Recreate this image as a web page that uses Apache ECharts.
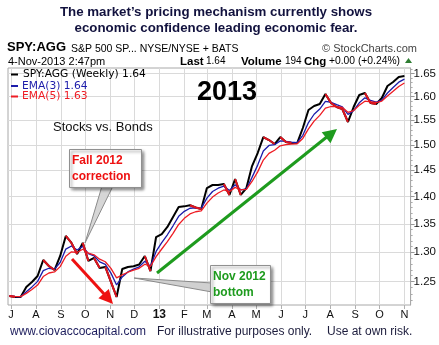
<!DOCTYPE html>
<html>
<head>
<meta charset="utf-8">
<script src="https://cdn.jsdelivr.net/npm/echarts@6.0.0/dist/echarts.min.js"></script>
<style>html,body{margin:0;padding:0;background:#fff;}#c{width:439px;height:345px;}</style>
</head>
<body>
<div id="c"></div>
<script>
// ---- data (weekly closes, Fridays from 29-Jun-2012) ----
const firstWeek = Date.UTC(2012, 5, 29);
const priceValues = [1.2264,1.2248,1.2248,1.2412,1.2496,1.2596,1.2867,1.2765,1.2696,1.2936,
1.3286,1.3163,1.2971,1.3163,1.2850,1.2902,1.2730,1.2748,1.2496,1.2248,
1.2714,1.2748,1.2760,1.2790,1.2936,1.2679,1.3267,1.3320,1.3446,1.3626,
1.3808,1.3820,1.3840,1.3800,1.3771,1.4162,1.4219,1.4219,1.4238,1.4031,
1.4333,1.4031,1.4162,1.4583,1.4838,1.5157,1.5097,1.5017,1.5157,1.5057,
1.5036,1.5036,1.5341,1.5713,1.5797,1.5840,1.6052,1.5860,1.5776,1.5733,
1.5464,1.5776,1.6031,1.6074,1.5860,1.5840,1.5967,1.6224,1.6311,1.6420,1.6440];
const ema3Values = [1.2264,1.2256,1.2252,1.2332,1.2414,1.2505,1.2686,1.2726,1.2711,1.2824,
1.3055,1.3109,1.3040,1.3102,1.2976,1.2939,1.2835,1.2792,1.2644,1.2446,
1.2580,1.2664,1.2712,1.2751,1.2844,1.2761,1.3014,1.3167,1.3307,1.3467,
1.3638,1.3729,1.3785,1.3792,1.3782,1.3972,1.4096,1.4158,1.4198,1.4115,
1.4224,1.4128,1.4145,1.4364,1.4601,1.4879,1.4988,1.5003,1.5080,1.5069,
1.5053,1.5045,1.5193,1.5453,1.5625,1.5733,1.5893,1.5877,1.5827,1.5780,
1.5622,1.5699,1.5865,1.5970,1.5915,1.5878,1.5923,1.6074,1.6193,1.6307,1.6374];
const ema5Values = [1.2264,1.2259,1.2255,1.2307,1.2370,1.2445,1.2586,1.2646,1.2663,1.2754,
1.2931,1.3008,1.2996,1.3052,1.2985,1.2957,1.2881,1.2837,1.2723,1.2565,
1.2615,1.2659,1.2693,1.2725,1.2795,1.2756,1.2926,1.3057,1.3187,1.3333,
1.3491,1.3601,1.3681,1.3721,1.3738,1.3879,1.3992,1.4068,1.4125,1.4094,
1.4174,1.4126,1.4138,1.4286,1.4470,1.4699,1.4832,1.4894,1.4982,1.5007,
1.5017,1.5023,1.5129,1.5324,1.5482,1.5601,1.5751,1.5787,1.5783,1.5766,
1.5665,1.5702,1.5812,1.5899,1.5886,1.5871,1.5903,1.6010,1.6110,1.6213,1.6289];
const monthStarts = ['2012-07-01','2012-08-01','2012-09-01','2012-10-01','2012-11-01','2012-12-01',
'2013-01-01','2013-02-01','2013-03-01','2013-04-01','2013-05-01','2013-06-01','2013-07-01',
'2013-08-01','2013-09-01','2013-10-01','2013-11-01'];
const monthLabels = ['J','A','S','O','N','D','13','F','M','A','M','J','J','A','S','O','N'];
const yTickLabels = [1.25,1.30,1.35,1.40,1.45,1.50,1.55,1.60,1.65];
const yMinorTicks = [1.22,1.23,1.24,1.26,1.27,1.28,1.29,1.31,1.32,1.33,1.34,1.36,1.37,1.38,1.39,
1.41,1.42,1.43,1.44,1.46,1.47,1.48,1.49,1.51,1.52,1.53,1.54,1.56,1.57,1.58,1.59,1.61,1.62,1.63,1.64,1.66];

// ---- build ----
const DAY = 86400000;
const dates = priceValues.map((_, i) => firstWeek + i * 7 * DAY);
const ts = s => { const p = s.split('-').map(Number); return Date.UTC(p[0], p[1]-1, p[2]); };
const monthTs = monthStarts.map(ts);
const labelFor = v => { let best = 0, bd = Infinity; monthTs.forEach((t, i) => { const d = Math.abs(t - v); if (d < bd) { bd = d; best = i; } }); return monthLabels[best]; };
const L = Math.log;
const lineData = arr => arr.map((v, i) => [dates[i], L(v)]);
const downData = [];
for (let i = 0; i < priceValues.length - 1; i++) {
  if (priceValues[i+1] < priceValues[i]) {
    downData.push([dates[i], L(priceValues[i])], [dates[i+1], L(priceValues[i+1])], [dates[i+1], null]);
  }
}
const yMin = L(1.2118), yMax = L(1.6618);
const xMin = Date.UTC(2012, 5, 27, 7), xMax = Date.UTC(2013, 10, 8, 17);
const SANS = '"Liberation Sans", Arial, sans-serif';

const chart = echarts.init(document.getElementById('c'), null, {renderer: 'canvas'});
const txt = (text, x, y, font, fill, extra) => ({
  type: 'text', z: 100, style: Object.assign({text, x, y, font, fill, textVerticalAlign: 'middle'}, extra || {})
});
chart.setOption({
  animation: false,
  grid: {left: 8, top: 68, right: 28, bottom: 40, show: true, borderColor: '#a8a8a8', borderWidth: 1},
  xAxis: [{
    type: 'value', min: xMin, max: xMax, scale: true,
    axisLine: {show: false},
    axisTick: {show: true, customValues: monthTs, length: 4, lineStyle: {color: '#b0b0b0'}},
    axisLabel: {customValues: monthTs, fontFamily: SANS, fontSize: 11, color: '#111', margin: 4,
      formatter: v => { const l = labelFor(v); return l === '13' ? '{b|13}' : l; },
      rich: {b: {fontWeight: 'bold', fontSize: 12, fontFamily: SANS, color: '#111'}}},
    splitLine: {show: true, lineStyle: {color: '#dadada', width: 1}}
  }],
  yAxis: [{
    type: 'value', position: 'right', min: yMin, max: yMax, scale: true,
    axisLine: {show: true, lineStyle: {color: '#a8a8a8'}},
    axisTick: {show: true, customValues: yTickLabels.map(L), length: 4, lineStyle: {color: '#999'}},
    axisLabel: {customValues: yTickLabels.map(L), formatter: v => Math.exp(v).toFixed(2),
      fontFamily: SANS, fontSize: 11.5, color: '#111', margin: 3},
    splitLine: {show: true, lineStyle: {color: '#dadada', width: 1}}
  }, {
    type: 'value', position: 'right', min: yMin, max: yMax, offset: 0, scale: true,
    axisLine: {show: false},
    axisTick: {show: true, customValues: yMinorTicks.map(L), length: 2, lineStyle: {color: '#aaa'}},
    axisLabel: {show: false}, splitLine: {show: false}
  }],
  series: [
    {name: 'SPY:AGG', type: 'line', data: lineData(priceValues), showSymbol: false, z: 3,
      lineStyle: {color: '#000', width: 2}},
    {name: 'EMA(3)', type: 'line', data: lineData(ema3Values), showSymbol: false, z: 4,
      lineStyle: {color: '#1c1caa', width: 1.3}},
    {name: 'EMA(5)', type: 'line', data: lineData(ema5Values), showSymbol: false, z: 5,
      lineStyle: {color: '#ee1c24', width: 1.3}},
    {name: 'down', type: 'line', data: downData, showSymbol: false, connectNulls: false, z: 6,
      lineStyle: {color: '#e0141e', width: 2}}
  ],
  graphic: [
    txt('The market\u2019s pricing mechanism currently shows', 216, 12.5, 'bold 13.3px ' + SANS, '#12123e', {textAlign: 'center'}),
    txt('economic confidence leading economic fear.', 216, 28.5, 'bold 13.3px ' + SANS, '#12123e', {textAlign: 'center'}),
    txt('SPY:AGG', 7, 47.5, 'bold 13px ' + SANS, '#000'),
    txt('S&P 500 SP... NYSE/NYSE + BATS', 71, 49, '10.5px ' + SANS, '#000'),
    txt('\u00a9 StockCharts.com', 322, 49, '11px ' + SANS, '#444'),
    txt('4-Nov-2013 2:47pm', 8, 61.5, '11px ' + SANS, '#000'),
    txt('Last', 180, 61.5, 'bold 11.5px ' + SANS, '#000'),
    txt('1.64', 206, 61.5, '10px ' + SANS, '#000'),
    txt('Volume', 241, 61.5, 'bold 11.5px ' + SANS, '#000'),
    txt('194', 285, 61.5, '10px ' + SANS, '#000'),
    txt('Chg', 304, 61.5, 'bold 11.5px ' + SANS, '#000'),
    txt('+0.00 (+0.24%)', 329, 61.5, '10.3px ' + SANS, '#000'),
    {type: 'polygon', z: 100, shape: {points: [[405, 63], [412, 63], [408.5, 58]]}, style: {fill: '#2e7d32'}},
    {type: 'line', z: 100, shape: {x1: 11, y1: 74.5, x2: 18, y2: 74.5}, style: {stroke: '#000', lineWidth: 2}},
    txt('SPY:AGG (Weekly) 1.64', 23, 74.5, '10.7px "DejaVu Sans", sans-serif', '#000'),
    {type: 'line', z: 100, shape: {x1: 11, y1: 86, x2: 18, y2: 86}, style: {stroke: '#1c1caa', lineWidth: 2}},
    txt('EMA(3) 1.64', 22, 86, '10.7px "DejaVu Sans", sans-serif', '#1c1caa'),
    {type: 'line', z: 100, shape: {x1: 11, y1: 96.5, x2: 18, y2: 96.5}, style: {stroke: '#ee1c24', lineWidth: 2}},
    txt('EMA(5) 1.63', 22, 96.5, '10.7px "DejaVu Sans", sans-serif', '#ee1c24'),
    txt('2013', 197, 93, 'bold 27px ' + SANS, '#000'),
    txt('Stocks vs. Bonds', 53, 127.5, '13px ' + SANS, '#111'),
    {type: 'polygon', z: 100, shape: {points: [[102, 186], [113, 186], [85, 243]]}, style: {fill: '#d6d6d6', stroke: '#8a8a8a', lineWidth: 1}},
    {type: 'rect', z: 101, shape: {x: 69.5, y: 149.5, width: 72, height: 38},
      style: {fill: '#fff', stroke: '#909090', lineWidth: 1, shadowBlur: 3, shadowOffsetX: 2, shadowOffsetY: 2, shadowColor: 'rgba(0,0,0,0.45)'}},
    Object.assign(txt('Fall 2012', 72, 161, 'bold 12px ' + SANS, '#ee1111'), {z: 102}),
    Object.assign(txt('correction', 72, 177, 'bold 12px ' + SANS, '#ee1111'), {z: 102}),
    {type: 'polygon', z: 100, shape: {points: [[134, 278], [212, 283], [212, 292]]}, style: {fill: '#d0d0d0', stroke: '#8a8a8a', lineWidth: 1}},
    {type: 'rect', z: 101, shape: {x: 210.5, y: 265.5, width: 60, height: 38},
      style: {fill: '#fff', stroke: '#909090', lineWidth: 1, shadowBlur: 3, shadowOffsetX: 2, shadowOffsetY: 2, shadowColor: 'rgba(0,0,0,0.45)'}},
    Object.assign(txt('Nov 2012', 213, 277, 'bold 12px ' + SANS, '#1e9b1e'), {z: 102}),
    Object.assign(txt('bottom', 213, 293, 'bold 12px ' + SANS, '#1e9b1e'), {z: 102}),
    {type: 'line', z: 99, shape: {x1: 72, y1: 259, x2: 105, y2: 295}, style: {stroke: '#ee1111', lineWidth: 3}},
    {type: 'polygon', z: 99, shape: {points: [[113, 304], [98.4, 298.3], [108.8, 288.9]]}, style: {fill: '#ee1111'}},
    {type: 'line', z: 99, shape: {x1: 157, y1: 273, x2: 328, y2: 136}, style: {stroke: '#1e9b1e', lineWidth: 3}},
    {type: 'polygon', z: 99, shape: {points: [[337, 129], [330.5, 143.2], [321.7, 132.3]]}, style: {fill: '#1e9b1e'}},
    txt('www.ciovaccocapital.com', 10, 332, '12px ' + SANS, '#1c1c5c'),
    txt('For illustrative purposes only.', 157, 332, '12px ' + SANS, '#1c1c3c'),
    txt('Use at own risk.', 327, 332, '12px ' + SANS, '#1c1c3c')
  ]
});
</script>
</body>
</html>
